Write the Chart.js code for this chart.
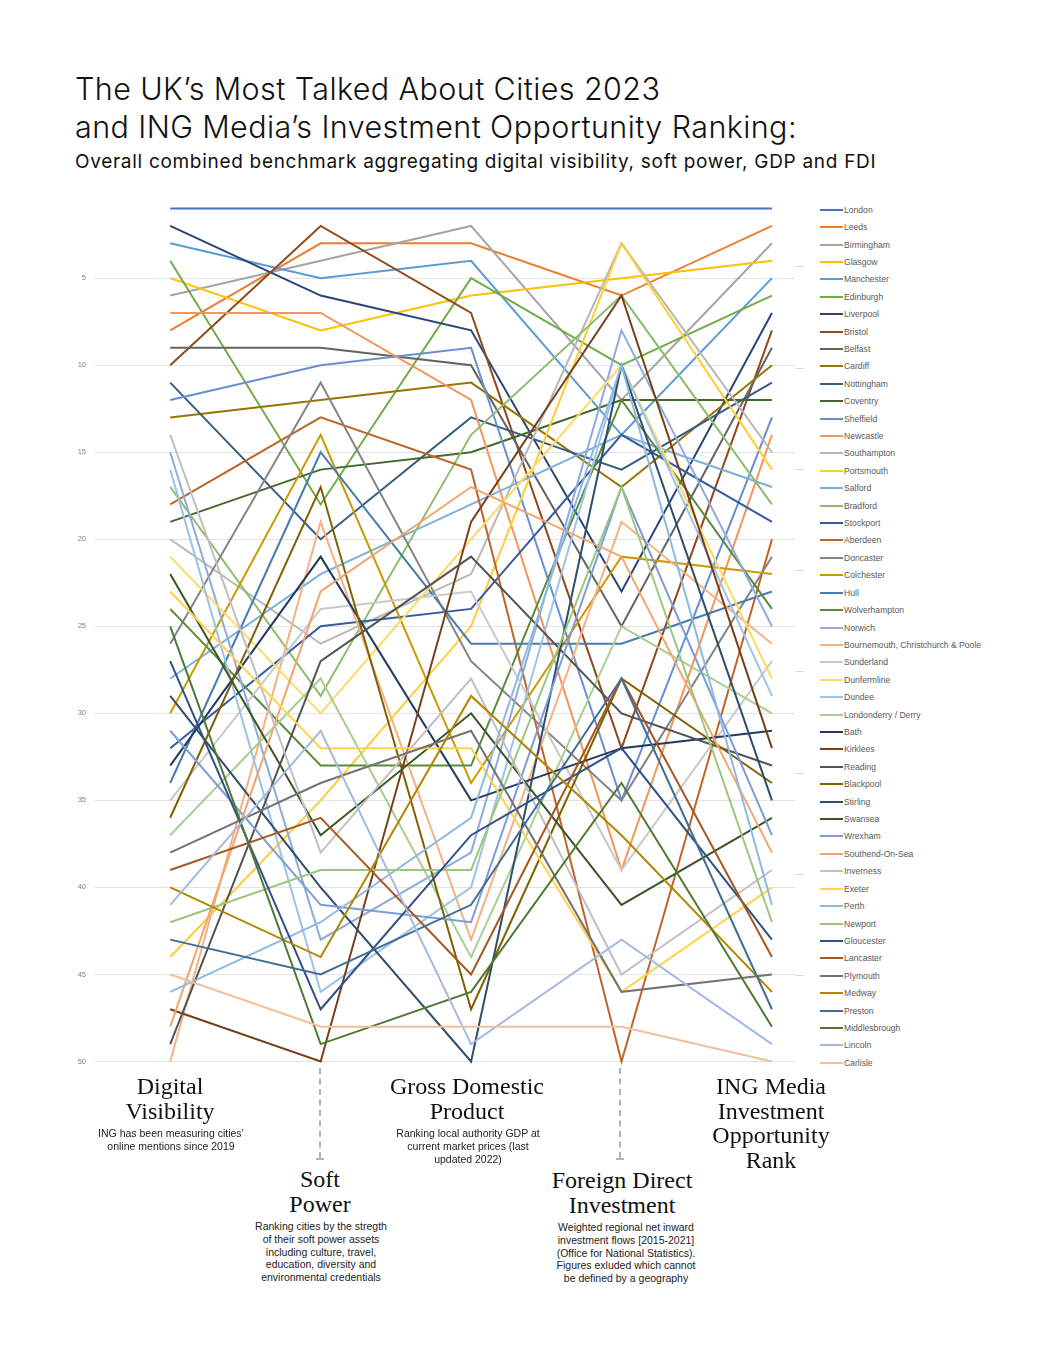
<!DOCTYPE html>
<html><head><meta charset="utf-8">
<script src="https://cdn.jsdelivr.net/npm/chart.js@4.4.0/dist/chart.umd.min.js"></script>
<style>
html,body{margin:0;padding:0;background:#fff;}
body{width:1063px;height:1370px;position:relative;overflow:hidden;font-family:Inter,"Liberation Sans",sans-serif;color:#111;}
#title{position:absolute;left:75px;top:70px;font-size:30.5px;line-height:38px;font-weight:350;letter-spacing:0.4px;white-space:nowrap;}
#sub{position:absolute;left:75px;top:151px;font-size:19px;line-height:22px;font-weight:400;letter-spacing:0.7px;white-space:nowrap;}
#wrap{position:absolute;left:0;top:195px;width:812px;height:880px;}
#legend{position:absolute;left:0;top:0;}
.li{position:absolute;left:820px;height:10px;white-space:nowrap;font-family:"Liberation Sans",Arial,sans-serif;font-size:8.6px;color:#595959;line-height:10px;}
.li span.sw{position:absolute;left:0;top:4px;width:23px;height:2px;}
.li span.tx{position:absolute;left:24px;top:0;}
.hd{position:absolute;transform:translateX(-50%);text-align:center;font-family:"Liberation Serif","Times New Roman",serif;font-size:24px;line-height:24.5px;color:#111;white-space:nowrap;}
.ds{position:absolute;transform:translateX(-50%);text-align:center;font-family:"Liberation Sans",Arial,sans-serif;font-size:10.5px;line-height:12.8px;color:#222;white-space:nowrap;}
.dash{position:absolute;width:0;border-left:2px dashed #b3b3b3;}
.cap{position:absolute;height:2px;width:8px;background:#b3b3b3;}
</style></head>
<body>
<div id="title">The UK’s Most Talked About Cities 2023<br>and ING Media’s Investment Opportunity Ranking:</div>
<div id="sub">Overall combined benchmark aggregating digital visibility, soft power, GDP and FDI</div>
<div id="wrap"><canvas id="c"></canvas></div>
<div id="legend"></div>

<div class="hd" style="left:170px;top:1074px;">Digital<br>Visibility</div>
<div class="ds" style="left:171px;top:1127px;">ING has been measuring cities’<br>online mentions since 2019</div>

<div class="dash" style="left:319px;top:1068px;height:90px;"></div>
<div class="cap" style="left:316px;top:1158px;"></div>
<div class="hd" style="left:320px;top:1167px;">Soft<br>Power</div>
<div class="ds" style="left:321px;top:1220px;">Ranking cities by the stregth<br>of their soft power assets<br>including culture, travel,<br>education, diversity and<br>environmental credentials</div>

<div class="hd" style="left:467px;top:1074px;">Gross Domestic<br>Product</div>
<div class="ds" style="left:468px;top:1127px;">Ranking local authority GDP at<br>current market prices (last<br>updated 2022)</div>

<div class="dash" style="left:619px;top:1068px;height:90px;"></div>
<div class="cap" style="left:616px;top:1158px;"></div>
<div class="hd" style="left:622px;top:1168px;">Foreign Direct<br>Investment</div>
<div class="ds" style="left:626px;top:1221px;">Weighted regional net inward<br>investment flows [2015-2021]<br>(Office for National Statistics).<br>Figures exluded which cannot<br>be defined by a geography</div>

<div class="hd" style="left:771px;top:1074px;">ING Media<br>Investment<br>Opportunity<br>Rank</div>

<script>
// ---- DATA ----
const columns = ['Digital Visibility', 'Soft Power', 'Gross Domestic Product', 'Foreign Direct Investment', 'ING Media Investment Opportunity Rank'];
const cities = ['London','Leeds','Birmingham','Glasgow','Manchester','Edinburgh','Liverpool','Bristol','Belfast','Cardiff',
  'Nottingham','Coventry','Sheffield','Newcastle','Southampton','Portsmouth','Salford','Bradford','Stockport','Aberdeen',
  'Doncaster','Colchester','Hull','Wolverhampton','Norwich','Bournemouth, Christchurch & Poole','Sunderland','Dunfermline','Dundee','Londonderry / Derry',
  'Bath','Kirklees','Reading','Blackpool','Stirling','Swansea','Wrexham','Southend-On-Sea','Inverness','Exeter',
  'Perth','Newport','Gloucester','Lancaster','Plymouth','Medway','Preston','Middlesbrough','Lincoln','Carlisle'];
const digitalVisibility = [1,8,6,5,3,4,2,10,9,13, 11,19,12,7,20,44,28,17,32,18, 26,30,34,24,15,50,35,21,16,37, 33,47,49,36,29,22,31,48,14,23, 46,42,27,39,38,40,43,25,41,45];
const softPower         = [1,3,4,8,5,18,6,2,9,12, 20,16,10,7,26,35,22,29,25,13, 11,14,15,33,43,19,24,30,46,28, 21,50,27,17,40,37,41,23,38,32, 42,39,47,36,34,44,45,49,31,48];
const gdpRank           = [1,3,2,6,4,5,8,7,10,11, 13,15,9,12,22,25,18,14,24,16, 27,34,26,33,38,43,23,20,40,44, 35,19,21,47,50,30,42,17,28,32, 36,39,37,45,31,29,41,46,49,48];
const fdiRank           = [1,6,12,5,14,10,23,32,25,17, 16,12,35,39,3,3,14,6,14,50, 35,21,26,12,8,19,39,10,10,25, 32,6,30,28,10,41,17,21,45,46, 10,17,32,28,46,37,28,34,43,48];
const ingRank           = [1,2,3,4,5,6,7,8,9,10, 11,12,13,14,15,16,17,18,19,20, 21,22,23,24,25,26,27,28,29,30, 31,32,33,34,35,36,37,38,39,40, 41,42,43,44,45,46,47,48,49,50];
const yTicks = [5,10,15,20,25,30,35,40,45,50];

// ---- STYLE (Office palette with tint/shade cycles) ----
const basePalette = ['#4472C4','#ED7D31','#A5A5A5','#FFC000','#5B9BD5','#70AD47'];
const cycleMods = [[1,0],[0.6,0],[0.8,0.2],[0.8,0],[0.6,0.4],[0.5,0],[0.7,0.3],[0.7,0],[0.5,0.5]];
function shade(hex, mod, off){
  const n = parseInt(hex.slice(1),16);
  const ch = [(n>>16)&255,(n>>8)&255,n&255].map(c=>Math.round(Math.min(255,c*mod+255*off)));
  return '#'+ch.map(c=>c.toString(16).padStart(2,'0')).join('');
}
const colors = cities.map((_,i)=>{const m=cycleMods[Math.floor(i/6)]; return shade(basePalette[i%6], m[0], m[1]);});

const series = [digitalVisibility, softPower, gdpRank, fdiRank, ingRank];
const datasets = cities.map((name,i)=>({
  label: name,
  data: series.map((arr,k)=>({x:k, y:arr[i]})),
  borderColor: colors[i],
  backgroundColor: colors[i],
  borderWidth: 2,
  pointRadius: 0,
  tension: 0,
  clip: false,
  order: cities.length - i
}));

// legend (HTML text, aligned to rank rows)
const leg = document.getElementById('legend');
cities.forEach((name,i)=>{
  const d = document.createElement('div');
  d.className='li';
  d.style.top = (204.7 + i*17.41)+'px';
  d.innerHTML = '<span class="sw" style="background:'+colors[i]+'"></span><span class="tx"></span>';
  d.querySelector('.tx').textContent = name;
  leg.appendChild(d);
});

new Chart(document.getElementById('c'), {
  type: 'line',
  data: { datasets },
  options: {
    responsive: true,
    maintainAspectRatio: false,
    animation: false,
    events: [],
    layout: { padding: { top: 12, bottom: 13, left: 0, right: 0 } },
    plugins: { legend: { display: false }, tooltip: { enabled: false } },
    scales: {
      x: { type: 'linear', min: -0.5, max: 4.1533, display: false },
      y: {
        type: 'linear', reverse: true, min: 1, max: 50,
        afterBuildTicks: (ax)=>{ ax.ticks = yTicks.map(v=>({value:v})); },
        afterFit: (ax)=>{ ax.width = 95; },
        grid: { color: '#e3e3e3', lineWidth: 1, drawTicks: false },
        border: { display: false },
        ticks: { color: '#7f7f7f', font: { family: 'Liberation Sans', size: 7.5 }, padding: 9 }
      },
      y2: {
        type: 'linear', position: 'right', min: -0.847, max: 7.577,
        afterBuildTicks: (ax)=>{ ax.ticks = [0,1,2,3,4,5,6,7].map(v=>({value:v})); },
        afterFit: (ax)=>{ ax.width = 17; },
        grid: { drawOnChartArea: false, color: '#d9d9d9', tickLength: 9, offset: false },
        border: { display: false },
        ticks: { display: false }
      }
    }
  }
});
</script>
</body></html>
